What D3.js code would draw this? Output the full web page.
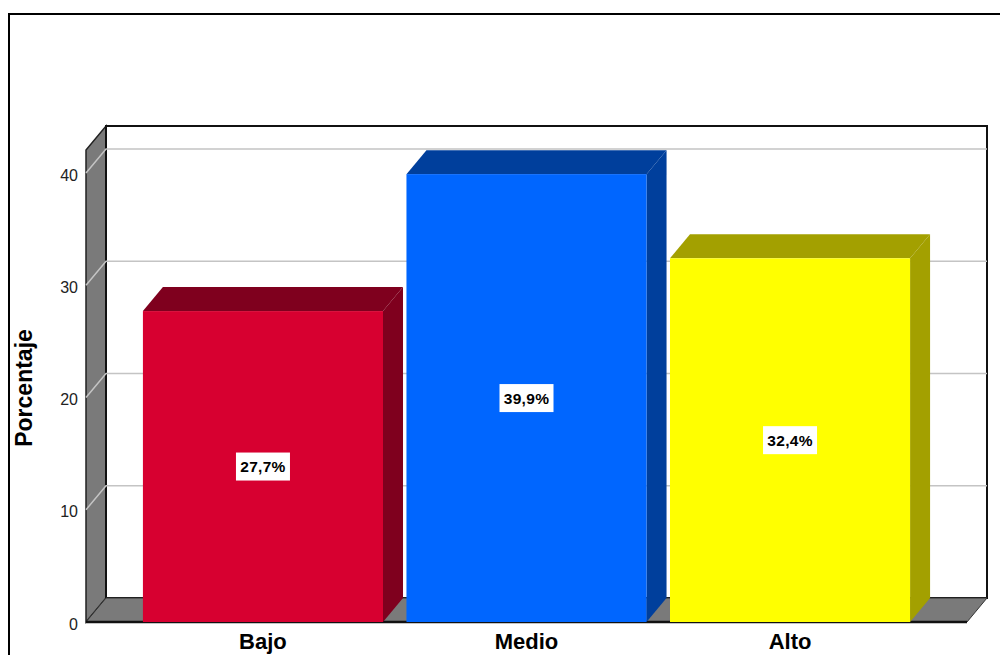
<!DOCTYPE html>
<html>
<head>
<meta charset="utf-8">
<script src="https://cdn.jsdelivr.net/npm/d3@7/dist/d3.min.js"></script>
<style>
  html, body { margin: 0; padding: 0; background: #fff; }
  svg { display: block; }
  text { font-family: "Liberation Sans", Arial, sans-serif; }
</style>
</head>
<body>
<svg id="chart" width="1000" height="655"></svg>
<script>
// Distribution of levels (percent of respondents)
const categories = ["Bajo", "Medio", "Alto"];
const values = [27.7, 39.9, 32.4];
const valueLabels = ["27,7%", "39,9%", "32,4%"];
const yTicks = [0, 10, 20, 30, 40];
const frontColors = ["#d70030", "#0066ff", "#ffff00"];
const sideColors = ["#7f001e", "#003f9c", "#a3a000"];

const svg = d3.select("#chart");

// plot geometry (front plane + depth offset for the 3D look)
const x0 = 86, x1 = 967, yBase = 622, yTopFront = 150;
const dx = 20, dy = 24;

const y = d3.scaleLinear().domain([0, 42.05]).range([yBase, yTopFront]);
const x = d3.scaleBand().domain(categories).range([x0, x1])
  .paddingInner(0.089).paddingOuter(0.216);

// outer frame
svg.append("rect").attr("x", 9).attr("y", 14).attr("width", 1000).attr("height", 700)
  .attr("fill", "none").attr("stroke", "#000").attr("stroke-width", 2);

const line = d3.line();

// left side wall
svg.append("path")
  .attr("d", line([[x0, yBase], [x0, yTopFront], [x0 + dx, yTopFront - dy], [x0 + dx, yBase - dy]]) + "Z")
  .attr("fill", "#7a7a7a").attr("stroke", "#222").attr("stroke-width", 1.5);

// back wall
svg.append("rect")
  .attr("x", x0 + dx).attr("y", yTopFront - dy)
  .attr("width", x1 - x0).attr("height", yBase - yTopFront)
  .attr("fill", "#fff").attr("stroke", "#111").attr("stroke-width", 2);

// floor
svg.append("path")
  .attr("d", line([[x0, yBase], [x1, yBase], [x1 + dx, yBase - dy], [x0 + dx, yBase - dy]]) + "Z")
  .attr("fill", "#7a7a7a").attr("stroke", "#333").attr("stroke-width", 1);
svg.append("line")
  .attr("x1", x0).attr("x2", x1).attr("y1", yBase).attr("y2", yBase)
  .attr("stroke", "#111").attr("stroke-width", 2.5);

// gridlines on back wall and side wall
const grid = svg.append("g").attr("stroke", "#c4c4c4").attr("stroke-width", 1.5).attr("fill", "none");
yTicks.filter(t => t > 0).forEach(t => {
  grid.append("path").attr("d", line([[x0, y(t)], [x0 + dx, y(t) - dy], [x1 + dx, y(t) - dy]]));
});

// bars
const bars = svg.append("g");
categories.forEach((c, i) => {
  const bx = x(c), bw = x.bandwidth(), by = y(values[i]);
  const g = bars.append("g");
  // top face
  g.append("path")
    .attr("d", line([[bx, by], [bx + bw, by], [bx + bw + dx, by - dy], [bx + dx, by - dy]]) + "Z")
    .attr("fill", sideColors[i]);
  // side face
  g.append("path")
    .attr("d", line([[bx + bw, by], [bx + bw + dx, by - dy], [bx + bw + dx, yBase - dy], [bx + bw, yBase]]) + "Z")
    .attr("fill", sideColors[i]);
  // front face
  g.append("rect").attr("x", bx).attr("y", by).attr("width", bw).attr("height", yBase - by)
    .attr("fill", frontColors[i]);
});

// value labels
categories.forEach((c, i) => {
  const cx = x(c) + x.bandwidth() / 2, cy = y(values[i] / 2);
  const g = svg.append("g").attr("transform", `translate(${cx},${cy})`);
  g.append("rect").attr("x", -27).attr("y", -14).attr("width", 54).attr("height", 28)
    .attr("fill", "#fff");
  g.append("text").attr("text-anchor", "middle").attr("dy", "0.36em")
    .attr("font-size", 15.5).attr("font-weight", "bold").attr("letter-spacing", 0.3)
    .text(valueLabels[i]);
});

// y axis
const yAxis = d3.axisLeft(y).tickValues(yTicks).tickSize(0).tickPadding(4);
const ga = svg.append("g").attr("transform", `translate(${x0 - 4},2)`).call(yAxis);
ga.select(".domain").remove();
ga.selectAll("text").attr("font-size", 16).attr("fill", "#222")
  .style("font-family", "'Liberation Sans', Arial, sans-serif");

// x category labels
svg.append("g").selectAll("text").data(categories).join("text")
  .attr("x", d => x(d) + x.bandwidth() / 2).attr("y", 649)
  .attr("text-anchor", "middle").attr("font-size", 22).attr("font-weight", "bold")
  .text(d => d);

// y axis title
svg.append("text")
  .attr("transform", `translate(32,388) rotate(-90)`)
  .attr("text-anchor", "middle").attr("font-size", 23).attr("font-weight", "bold")
  .text("Porcentaje");
</script>
</body>
</html>
